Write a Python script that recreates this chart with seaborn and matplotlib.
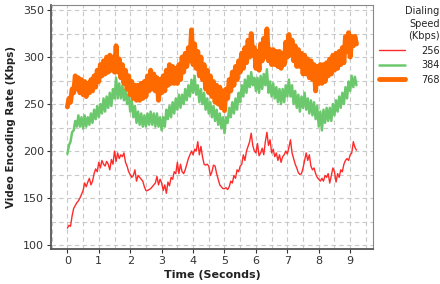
import numpy as np
import pandas as pd
import matplotlib
matplotlib.use("Agg")
import matplotlib.pyplot as plt
import seaborn as sns

sns.set_style("white")
plt.rcParams['font.family'] = ['DejaVu Sans']

rate_256 = [118, 121, 120, 131, 139, 142, 145, 147, 150, 154, 158, 166, 162, 167, 171, 164, 168, 176, 181, 178,
            188, 182, 190, 186, 184, 189, 186, 180, 191, 186, 200, 189, 198, 192, 196, 194, 198, 188, 184, 178,
            175, 172, 174, 180, 168, 174, 172, 170, 168, 162, 158, 158, 159, 160, 162, 164, 166, 173, 164, 170,
            166, 158, 164, 155, 167, 163, 172, 170, 178, 176, 188, 176, 186, 178, 176, 180, 186, 192, 196, 200,
            196, 202, 200, 210, 196, 205, 194, 186, 185, 186, 184, 174, 178, 185, 184, 176, 170, 164, 162, 160,
            160, 161, 159, 162, 168, 166, 174, 171, 180, 178, 184, 186, 196, 190, 200, 205, 210, 219, 206, 200,
            198, 208, 195, 198, 203, 196, 210, 220, 206, 212, 198, 202, 194, 198, 190, 196, 188, 194, 196, 200,
            197, 204, 212, 198, 192, 186, 182, 177, 175, 176, 182, 190, 198, 190, 196, 184, 180, 182, 176, 172,
            170, 168, 171, 168, 174, 172, 176, 166, 174, 182, 178, 167, 176, 172, 180, 178, 186, 190, 192, 190,
            196, 198, 210, 204, 201]

rate_384 = [197, 206, 210, 220, 222, 232, 226, 238, 226, 236, 224, 238, 226, 236, 228, 240, 230, 244, 234, 248,
            236, 250, 240, 256, 242, 258, 246, 262, 248, 266, 256, 278, 256, 272, 256, 270, 254, 266, 250, 260,
            242, 254, 236, 248, 230, 242, 228, 240, 226, 238, 226, 240, 228, 242, 228, 240, 226, 240, 226, 236,
            222, 236, 226, 244, 234, 248, 236, 252, 240, 256, 244, 260, 246, 260, 250, 266, 254, 270, 258, 276,
            262, 280, 260, 270, 252, 266, 250, 262, 244, 256, 240, 252, 236, 248, 232, 244, 228, 240, 224, 236,
            219, 236, 230, 246, 236, 252, 240, 256, 244, 262, 252, 270, 258, 276, 262, 280, 268, 284, 270, 278,
            264, 278, 262, 280, 266, 282, 270, 287, 262, 274, 258, 272, 256, 268, 252, 266, 250, 266, 252, 270,
            258, 276, 258, 270, 250, 264, 246, 260, 242, 258, 246, 262, 244, 256, 240, 254, 238, 252, 234, 248,
            226, 242, 222, 244, 230, 246, 232, 246, 232, 250, 238, 254, 242, 258, 246, 262, 250, 268, 256, 274,
            264, 280, 268, 279, 270]

rate_768 = [247, 256, 252, 266, 262, 280, 266, 278, 262, 276, 260, 274, 258, 272, 262, 276, 264, 280, 268, 286,
            274, 292, 280, 296, 282, 300, 284, 302, 286, 300, 284, 312, 284, 298, 278, 292, 272, 286, 266, 280,
            260, 274, 256, 270, 254, 270, 254, 272, 256, 274, 258, 280, 264, 286, 266, 282, 264, 278, 254, 276,
            262, 280, 264, 286, 270, 292, 272, 290, 272, 288, 272, 292, 276, 300, 284, 304, 290, 310, 296, 329,
            292, 314, 288, 306, 280, 300, 276, 292, 266, 286, 262, 280, 258, 274, 252, 270, 250, 268, 246, 264,
            243, 266, 256, 276, 264, 284, 270, 290, 276, 296, 284, 304, 288, 310, 294, 318, 300, 325, 302, 310,
            288, 306, 286, 314, 296, 320, 300, 330, 296, 308, 292, 308, 292, 306, 290, 306, 288, 304, 292, 316,
            300, 324, 302, 318, 296, 312, 290, 308, 290, 304, 282, 302, 282, 298, 278, 296, 276, 292, 264, 290,
            272, 292, 272, 292, 274, 294, 280, 298, 282, 302, 286, 304, 288, 306, 292, 310, 294, 322, 306, 326,
            300, 322, 312, 322, 314]

speeds = ['256', '384', '768']
series = [rate_256, rate_384, rate_768]
colors = ['#ff2a2a', '#6cc86c', '#ff6a00']
widths = [0.8, 0.9, 1.1]

fig = plt.figure(figsize=(4.4, 2.84), dpi=100)
ax = fig.add_axes([0.116, 0.123, 0.732, 0.859])

for spd, vals, c, w in zip(speeds, series, colors, widths):
    df = pd.DataFrame({'time': np.linspace(0, 9.2, len(vals)), 'rate': vals})
    sns.lineplot(data=df, x='time', y='rate', color=c, linewidth=w, ax=ax,
                 estimator=None, sort=False, label=spd)

ax.set_xlim(-0.52, 9.73)
ax.set_ylim(95.7, 355.3)
ax.set_xticks(range(0, 10))
ax.set_xticks(np.arange(-0.5, 9.6, 0.5), minor=True)
ax.set_yticks(range(100, 351, 50))
ax.set_yticks(range(100, 351, 25), minor=True)
ax.grid(True, which='both', color='#c8c8c8', linestyle=(0, (4, 3)), linewidth=0.8)
ax.set_axisbelow(True)

ax.tick_params(which='major', length=3, width=0.8, color='#333333', labelsize=8,
               labelcolor='#333333', pad=2, direction='out', bottom=True, left=True)
ax.tick_params(which='minor', length=0)
for s in ['left', 'bottom']:
    ax.spines[s].set_color('#555555')
    ax.spines[s].set_linewidth(1.3)
for s in ['top', 'right']:
    ax.spines[s].set_color('#888888')
    ax.spines[s].set_linewidth(0.8)

ax.set_xlabel('Time (Seconds)', fontsize=8, fontweight='bold', color='#222222', labelpad=3)
ax.set_ylabel('Video Encoding Rate (Kbps)', fontsize=7.4, fontweight='bold', color='#222222', labelpad=5)

handles, labels = ax.get_legend_handles_labels()
ax.get_legend().remove()
for h, w in zip(handles, [1.0, 1.8, 3.5]):
    h.set_linewidth(w)
leg = fig.legend(handles, labels, title='Dialing\nSpeed\n(Kbps)', loc='upper right',
                 bbox_to_anchor=(1.012, 1.0), frameon=False, fontsize=7, title_fontsize=7,
                 handlelength=2.7, alignment='right', labelspacing=0.45,
                 borderaxespad=0.2, handletextpad=1.6)
leg.get_title().set_multialignment('right')
leg.get_title().set_linespacing(1.35)
for t in leg.get_texts():
    t.set_color('#222222')

fig.savefig('out.png', dpi=100)
